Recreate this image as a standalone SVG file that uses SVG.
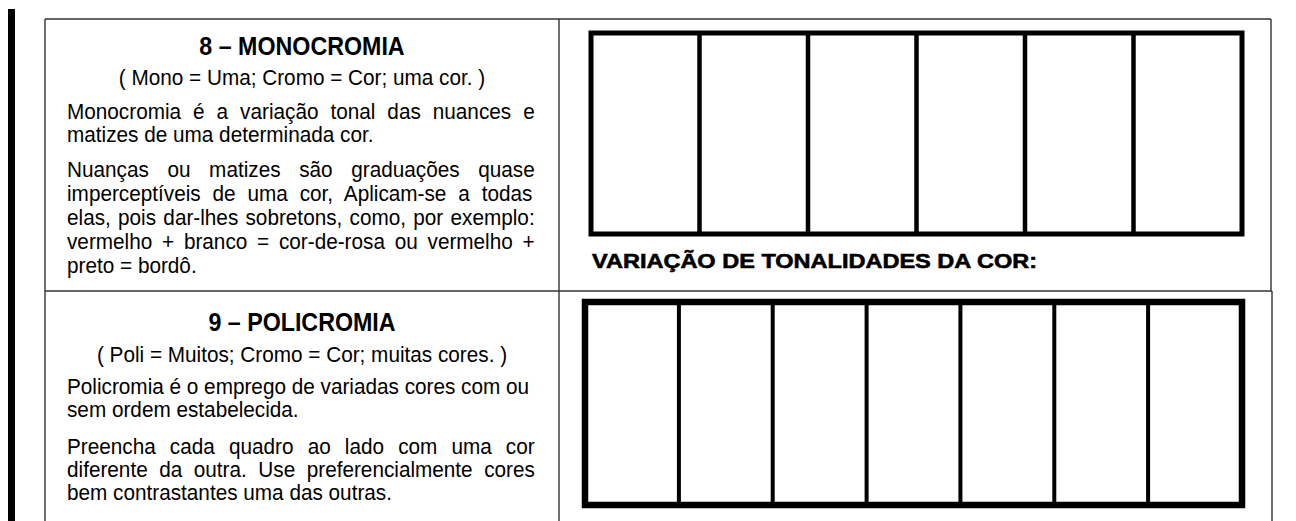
<svg xmlns="http://www.w3.org/2000/svg" width="1296" height="521" viewBox="0 0 1296 521">
<style>
.t{font-family:"Liberation Sans",Arial,sans-serif;font-size:22.8px;fill:#000}
.h{font-family:"Liberation Sans",Arial,sans-serif;font-size:25px;font-weight:bold;fill:#000;text-anchor:middle}
.c{text-anchor:middle}
.rule{stroke:#333;stroke-width:1.4;fill:none}
.box{fill:#fff;stroke:#000}
.div{stroke:#000}
.lbl{font-family:"Liberation Sans",Arial,sans-serif;font-size:21px;font-weight:bold;fill:#000;stroke:#000;stroke-width:0.6}
</style>
<rect width="1296" height="521" fill="#fff"/>
<g id="margin-bar"><rect x="8" y="9" width="7" height="512" fill="#000"/></g>
<g id="table">
<line class="rule" x1="45" y1="19" x2="1271" y2="19"/>
<line class="rule" x1="45" y1="19" x2="45" y2="521"/>
<line class="rule" x1="559" y1="19" x2="559" y2="521"/>
<line class="rule" x1="1271" y1="19" x2="1271" y2="291"/>
<line class="rule" x1="1272" y1="291" x2="1272" y2="521"/>
<line class="rule" x1="45" y1="291" x2="1272" y2="291"/>
</g>
<g id="text-monocromia">
<g transform="scale(0.93,1)">
<text class="h" x="324.73" y="55">8 – MONOCROMIA</text>
</g>
<g transform="scale(0.91,1)">
<text class="t c" x="331.87" y="85">( Mono = Uma; Cromo = Cor; uma cor. )</text>
<text class="t" x="73.63" y="119" word-spacing="6.84">Monocromia é a variação tonal das nuances e</text>
<text class="t" x="73.63" y="142">matizes de uma determinada cor.</text>
<text class="t" x="73.63" y="177" word-spacing="14.13">Nuanças ou matizes são graduações quase</text>
<text class="t" x="73.63" y="201" word-spacing="6.73">imperceptíveis de uma cor, Aplicam-se a todas</text>
<text class="t" x="73.63" y="225" word-spacing="1.65">elas, pois dar-lhes sobretons, como, por exemplo:</text>
<text class="t" x="73.63" y="249" word-spacing="4.40">vermelho + branco = cor-de-rosa ou vermelho +</text>
<text class="t" x="73.63" y="273">preto = bordô.</text>
</g>
</g>
<g id="grid-monocromia">
<rect class="box" x="591" y="33" width="651" height="201" stroke-width="5"/>
<g class="div" stroke-width="4.5">
<line x1="699.5" y1="33" x2="699.5" y2="234"/>
<line x1="808" y1="33" x2="808" y2="234"/>
<line x1="916.5" y1="33" x2="916.5" y2="234"/>
<line x1="1025" y1="33" x2="1025" y2="234"/>
<line x1="1133.5" y1="33" x2="1133.5" y2="234"/>
</g>
<text class="lbl" x="592" y="268" textLength="445" lengthAdjust="spacingAndGlyphs">VARIAÇÃO DE TONALIDADES DA COR:</text>
</g>
<g id="text-policromia">
<g transform="scale(0.93,1)">
<text class="h" x="324.73" y="331">9 – POLICROMIA</text>
</g>
<g transform="scale(0.91,1)">
<text class="t c" x="331.87" y="362">( Poli = Muitos; Cromo = Cor; muitas cores. )</text>
<text class="t" x="73.63" y="394">Policromia é o emprego de variadas cores com ou</text>
<text class="t" x="73.63" y="417">sem ordem estabelecida.</text>
<text class="t" x="73.63" y="454" word-spacing="9.19">Preencha cada quadro ao lado com uma cor</text>
<text class="t" x="73.63" y="477" word-spacing="6.33">diferente da outra. Use preferencialmente cores</text>
<text class="t" x="73.63" y="500">bem contrastantes uma das outras.</text>
</g>
</g>
<g id="grid-policromia">
<rect class="box" x="585" y="302" width="657" height="203" stroke-width="6.5"/>
<g class="div" stroke-width="4">
<line x1="678.9" y1="302" x2="678.9" y2="505"/>
<line x1="772.7" y1="302" x2="772.7" y2="505"/>
<line x1="866.6" y1="302" x2="866.6" y2="505"/>
<line x1="960.4" y1="302" x2="960.4" y2="505"/>
<line x1="1054.3" y1="302" x2="1054.3" y2="505"/>
<line x1="1148.1" y1="302" x2="1148.1" y2="505"/>
</g>
</g>
</svg>
